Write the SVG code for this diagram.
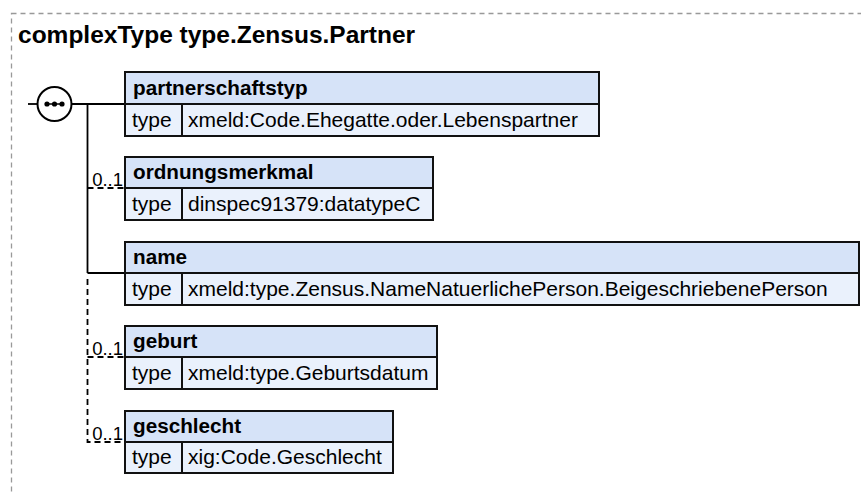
<svg xmlns="http://www.w3.org/2000/svg" width="861" height="492" viewBox="0 0 861 492">
<style>
  text { font-family: "Liberation Sans", Arial, sans-serif; fill: #000; }
  .title { font-size: 24.5px; font-weight: bold; }
  .hdr { font-size: 20.7px; font-weight: bold; }
  .txt { font-size: 21px; }
  .occ { font-size: 18.5px; }
  .head { fill: #d6e3f8; stroke: #111; stroke-width: 2; }
  .row { fill: #eaf1fc; stroke: #111; stroke-width: 2; }
  .sep { stroke: #111; stroke-width: 2; }
  .ln { stroke: #000; stroke-width: 1.8; fill: none; }
  .dash { stroke: #000; stroke-width: 1.8; fill: none; stroke-dasharray: 6 4; }
</style>
<rect x="11.5" y="13.5" width="900" height="500" fill="none" stroke="#999" stroke-width="1.3" stroke-dasharray="5 4"/>
<text class="title" x="18" y="43">complexType type.Zensus.Partner</text>

<g id="connectors">
  <line class="ln" x1="28" y1="104" x2="37.5" y2="104"/>
  <line class="ln" x1="71.5" y1="104" x2="125" y2="104"/>
  <line class="ln" x1="87.5" y1="104" x2="87.5" y2="273"/>
  <line class="dash" x1="87.5" y1="188" x2="125" y2="188"/>
  <line class="ln" x1="87.5" y1="273" x2="125" y2="273"/>
  <path class="dash" d="M87.5 279 V442 H125"/>
  <line class="dash" x1="87.5" y1="357" x2="125" y2="357"/>
  <text class="occ" x="123" y="186" text-anchor="end">0..1</text>
  <text class="occ" x="123" y="355" text-anchor="end">0..1</text>
  <text class="occ" x="123" y="440" text-anchor="end">0..1</text>
</g>

<g id="sequence">
  <circle cx="54.5" cy="104" r="17" fill="#fff" stroke="#000" stroke-width="2"/>
  <line x1="45" y1="104" x2="64" y2="104" stroke="#000" stroke-width="1.5"/>
  <circle cx="47" cy="104" r="2.6" fill="#000"/>
  <circle cx="54.5" cy="104" r="2.6" fill="#000"/>
  <circle cx="62" cy="104" r="2.6" fill="#000"/>
</g>

<g id="partnerschaftstyp">
  <rect class="head" x="125" y="72" width="474" height="32"/>
  <rect class="row" x="125" y="104" width="474" height="32"/>
  <line class="sep" x1="182" y1="104" x2="182" y2="136"/>
  <text class="hdr" x="133" y="95">partnerschaftstyp</text>
  <text class="txt" x="132" y="127">type</text>
  <text class="txt" x="188" y="127">xmeld:Code.Ehegatte.oder.Lebenspartner</text>
</g>

<g id="ordnungsmerkmal">
  <rect class="head" x="125" y="157" width="308" height="31"/>
  <rect class="row" x="125" y="188" width="308" height="32"/>
  <line class="sep" x1="182" y1="188" x2="182" y2="220"/>
  <text class="hdr" x="133" y="179">ordnungsmerkmal</text>
  <text class="txt" x="132" y="211">type</text>
  <text class="txt" x="188" y="211">dinspec91379:datatypeC</text>
</g>

<g id="name">
  <rect class="head" x="125" y="242" width="734" height="31"/>
  <rect class="row" x="125" y="273" width="734" height="32"/>
  <line class="sep" x1="182" y1="273" x2="182" y2="305"/>
  <text class="hdr" x="133" y="264">name</text>
  <text class="txt" x="132" y="296">type</text>
  <text class="txt" x="188" y="296">xmeld:type.Zensus.NameNatuerlichePerson.BeigeschriebenePerson</text>
</g>

<g id="geburt">
  <rect class="head" x="125" y="326" width="312" height="31"/>
  <rect class="row" x="125" y="357" width="312" height="32"/>
  <line class="sep" x1="182" y1="357" x2="182" y2="389"/>
  <text class="hdr" x="133" y="348">geburt</text>
  <text class="txt" x="132" y="380">type</text>
  <text class="txt" x="188" y="380">xmeld:type.Geburtsdatum</text>
</g>

<g id="geschlecht">
  <rect class="head" x="125" y="411" width="268" height="31"/>
  <rect class="row" x="125" y="442" width="268" height="31"/>
  <line class="sep" x1="182" y1="442" x2="182" y2="473"/>
  <text class="hdr" x="133" y="433">geschlecht</text>
  <text class="txt" x="132" y="464">type</text>
  <text class="txt" x="188" y="464">xig:Code.Geschlecht</text>
</g>
</svg>
